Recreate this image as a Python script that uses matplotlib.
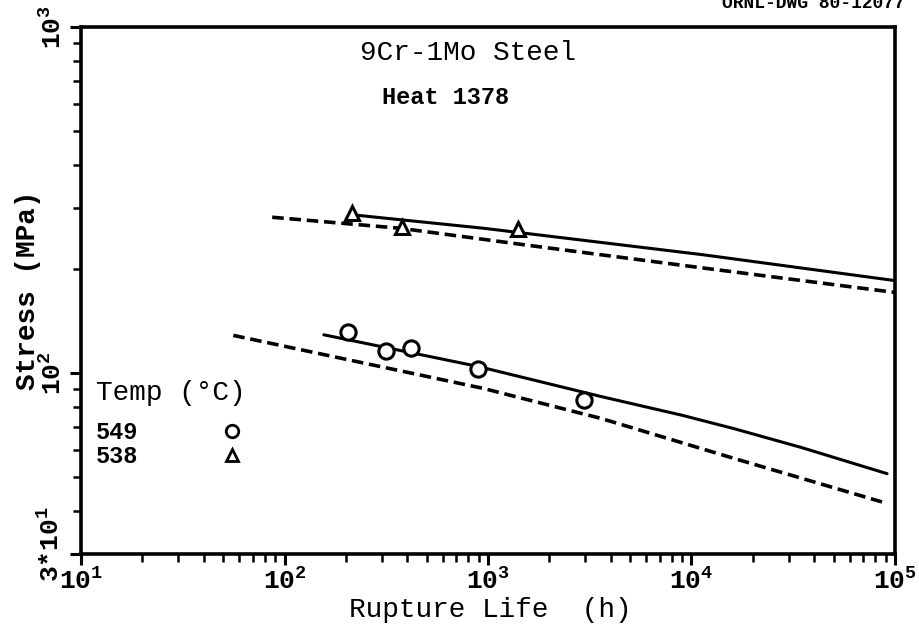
import matplotlib
matplotlib.use('Agg')
import matplotlib.pyplot as plt
from matplotlib.ticker import FixedLocator, FixedFormatter, NullFormatter
from matplotlib.lines import Line2D
from matplotlib.transforms import ScaledTranslation

# ---------------- data ----------------
hours_538 = [215, 380, 1400]
stress_538 = [290, 265, 260]
hours_549 = [204, 315, 418, 893, 2970]
stress_549 = [131, 116, 118, 103, 83.4]

solid_538_x = [224, 955, 11200, 100000]
solid_538_y = [286, 262, 220, 185]
dash_538_x = [87, 372, 1574, 10800, 100000]
dash_538_y = [282, 262, 234, 202, 171]

solid_549_x = [156, 893, 3605, 9000, 16290, 34800, 91400]
solid_549_y = [129, 104.5, 85.5, 75.5, 69.0, 60.9, 51.2]
dash_549_x = [56, 955, 3605, 16290, 91400]
dash_549_y = [128.5, 90.2, 73.9, 56.6, 42]

x_major = [1e1, 1e2, 1e3, 1e4, 1e5]
x_major_labels = [r'$10^{1}$', r'$10^{2}$', r'$10^{3}$', r'$10^{4}$', r'$10^{5}$']
y_major = [30, 100, 1000]
y_major_labels = [r'3*$10^{1}$', r'$10^{2}$', r'$10^{3}$']
legend_title = 'Temp (°C)'
legend_labels = ['549', '538']

# ---------------- style ----------------
MONO = ['Liberation Mono', 'DejaVu Sans Mono']
plt.rcParams['font.family'] = MONO
plt.rcParams['mathtext.fontset'] = 'custom'
plt.rcParams['mathtext.rm'] = 'Liberation Mono:bold'
plt.rcParams['mathtext.it'] = 'Liberation Mono:bold'
plt.rcParams['mathtext.bf'] = 'Liberation Mono:bold'

W, H = 919, 629
fig = plt.figure(figsize=(W / 100, H / 100), dpi=100)
fig.patch.set_facecolor('white')
L, R, T, B = 81, 895, 27, 554
ax = fig.add_axes([L / W, (H - B) / H, (R - L) / W, (B - T) / H])
ax.set_xscale('log')
ax.set_yscale('log')
ax.set_xlim(1e1, 1e5)
ax.set_ylim(30, 1000)

for s in ax.spines.values():
    s.set_linewidth(2.6)
    s.set_color('black')

# ticks
minor_x = [m * 10 ** e for e in range(1, 5) for m in range(2, 10)]
minor_y = [m * 10 ** e for e in range(1, 3) for m in range(2, 10) if 30 < m * 10 ** e < 1000]
ax.xaxis.set_major_locator(FixedLocator(x_major))
ax.xaxis.set_major_formatter(FixedFormatter(x_major_labels))
ax.xaxis.set_minor_locator(FixedLocator(minor_x))
ax.xaxis.set_minor_formatter(NullFormatter())
ax.yaxis.set_major_locator(FixedLocator(y_major))
ax.yaxis.set_major_formatter(FixedFormatter(y_major_labels))
ax.yaxis.set_minor_locator(FixedLocator(minor_y))
ax.yaxis.set_minor_formatter(NullFormatter())
ax.tick_params(which='major', direction='out', length=8, width=2.2,
               labelsize=19, pad=3)
ax.tick_params(axis='x', which='major', pad=2)
ax.tick_params(which='minor', direction='out', length=6, width=1.8)
for lab in ax.get_yticklabels():
    lab.set_rotation(90)
    lab.set_va('center')
    lab.set_fontweight('bold')
for lab in ax.get_xticklabels():
    lab.set_fontweight('bold')
# lift the bottom y label a little so it clears the 10^1 x label (as in the reference)
ylabs = ax.get_yticklabels()
ylabs[0].set_transform(ylabs[0].get_transform() +
                       ScaledTranslation(-2 / 100, 10 / 100, fig.dpi_scale_trans))

# fitted curves
ax.plot(solid_538_x, solid_538_y, color='black', lw=2.2, solid_capstyle='round')
ax.plot(dash_538_x, dash_538_y, color='black', lw=2.6, linestyle=(0, (3.2, 1.6)))
ax.plot(solid_549_x, solid_549_y, color='black', lw=2.2, solid_capstyle='round')
ax.plot(dash_549_x, dash_549_y, color='black', lw=2.6, linestyle=(0, (3.2, 1.6)))

# data points
ax.plot(hours_549, stress_549, linestyle='none', marker='o', markersize=11,
        markerfacecolor='white', markeredgecolor='black', markeredgewidth=2.2)
ax.plot(hours_538, stress_538, linestyle='none', marker='^', markersize=10,
        markerfacecolor='white', markeredgecolor='black', markeredgewidth=2.2)

# legend
handles = [
    Line2D([], [], linestyle='none', marker='o', markersize=9,
           markerfacecolor='white', markeredgecolor='black', markeredgewidth=2.0),
    Line2D([], [], linestyle='none', marker='^', markersize=8,
           markerfacecolor='white', markeredgecolor='black', markeredgewidth=2.0),
]
fig.text(96 / W, 1 - 393 / H, legend_title, ha='left', va='center', fontsize=20)
leg = ax.legend(handles, legend_labels, markerfirst=False,
                loc='upper left', bbox_to_anchor=((96 - L) / (R - L), (B - 421) / (B - T)),
                frameon=False, borderaxespad=0, borderpad=0, handletextpad=2.95,
                handlelength=2.0, labelspacing=0.05,
                prop={'family': MONO, 'weight': 'bold', 'size': 17})

# texts
fig.text(468 / W, 1 - 53 / H, '9Cr-1Mo Steel', ha='center', va='center',
         fontsize=20)
fig.text(446 / W, 1 - 98 / H, 'Heat 1378', ha='center', va='center',
         fontsize=17, fontweight='bold')
fig.text(490 / W, 1 - 610 / H, 'Rupture Life  (h)', ha='center', va='center',
         fontsize=20)
fig.text(28 / W, 1 - 290 / H, 'Stress (MPa)', ha='center', va='center',
         rotation=90, fontsize=20, fontweight='bold')
fig.text(722 / W, 1 - 3 / H, 'ORNL-DWG 80-12077', ha='left', va='center',
         fontsize=13, fontweight='bold')

fig.savefig('out.png', dpi=100, facecolor='white')
